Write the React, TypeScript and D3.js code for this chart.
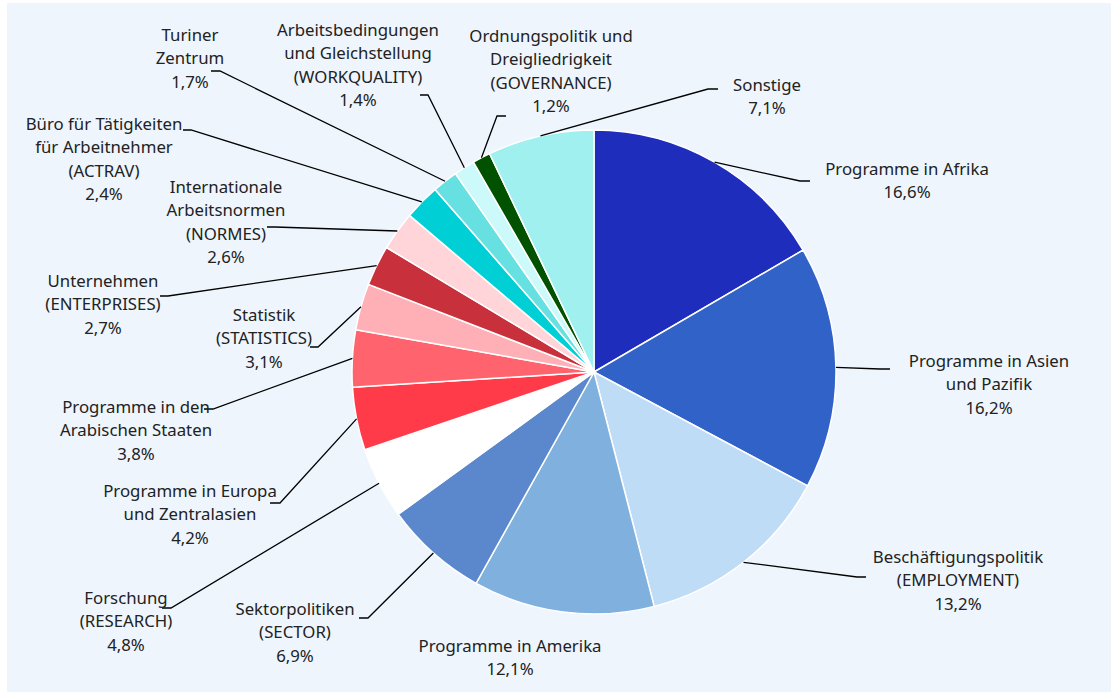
import React from 'react'
import * as d3 from 'd3'

// Anteile in Prozent, im Uhrzeigersinn ab 12 Uhr
const names = [
  'Programme in Afrika', 'Programme in Asien und Pazifik', 'Beschäftigungspolitik (EMPLOYMENT)',
  'Programme in Amerika', 'Sektorpolitiken (SECTOR)', 'Forschung (RESEARCH)',
  'Programme in Europa und Zentralasien', 'Programme in den Arabischen Staaten',
  'Statistik (STATISTICS)', 'Unternehmen (ENTERPRISES)', 'Internationale Arbeitsnormen (NORMES)',
  'Büro für Tätigkeiten für Arbeitnehmer (ACTRAV)', 'Turiner Zentrum',
  'Arbeitsbedingungen und Gleichstellung (WORKQUALITY)', 'Ordnungspolitik und Dreigliedrigkeit (GOVERNANCE)',
  'Sonstige',
]
const values = [16.6, 16.2, 13.2, 12.1, 6.9, 4.8, 4.2, 3.8, 3.1, 2.7, 2.6, 2.4, 1.7, 1.4, 1.2, 7.1]
const labelLines = [
  ['Programme in Afrika'],
  ['Programme in Asien', 'und Pazifik'],
  ['Beschäftigungspolitik', '(EMPLOYMENT)'],
  ['Programme in Amerika'],
  ['Sektorpolitiken', '(SECTOR)'],
  ['Forschung', '(RESEARCH)'],
  ['Programme in Europa', 'und Zentralasien'],
  ['Programme in den', 'Arabischen Staaten'],
  ['Statistik', '(STATISTICS)'],
  ['Unternehmen', '(ENTERPRISES)'],
  ['Internationale', 'Arbeitsnormen', '(NORMES)'],
  ['Büro für Tätigkeiten', 'für Arbeitnehmer', '(ACTRAV)'],
  ['Turiner', 'Zentrum'],
  ['Arbeitsbedingungen', 'und Gleichstellung', '(WORKQUALITY)'],
  ['Ordnungspolitik und', 'Dreigliedrigkeit', '(GOVERNANCE)'],
  ['Sonstige'],
]
const colors = [
  '#1f2dbd', '#3162c8', '#bfdcf7', '#80b0dd', '#5b87cc', '#ffffff', '#ff3b4a', '#ff646e',
  '#ffb0b6', '#c8313c', '#ffd5da', '#00cfd6', '#66e0e0', '#ccf9fa', '#005200', '#a0f0f0',
]

// Beschriftungs-Layout: Textmitte x, erste Zeile y, Knick der Linie, Ende der Linie
const labelPos = [
  { x: 907, y: 169, ex: 800, ey: 181, hx: 810 },
  { x: 989, y: 361, ex: 880, ey: 369, hx: 890 },
  { x: 958, y: 557, ex: 857, ey: 577, hx: 866 },
  { x: 510, y: 646, ex: 560, ey: 628, hx: 560 },
  { x: 295, y: 609, ex: 368, ey: 618, hx: 359 },
  { x: 126, y: 598, ex: 171, ey: 608, hx: 162 },
  { x: 190, y: 491, ex: 280, ey: 503, hx: 270 },
  { x: 136, y: 407, ex: 213, ey: 409, hx: 204 },
  { x: 264, y: 315, ex: 318, ey: 347, hx: 310 },
  { x: 103, y: 281, ex: 168, ey: 296, hx: 160 },
  { x: 226, y: 187, ex: 275, ey: 227, hx: 267 },
  { x: 104, y: 124, ex: 191, ey: 130, hx: 183 },
  { x: 190, y: 35, ex: 220, ey: 71, hx: 211 },
  { x: 358, y: 30, ex: 428, ey: 95, hx: 420 },
  { x: 551, y: 36, ex: 497, ey: 116, hx: 506 },
  { x: 767, y: 85, ex: 708, ey: 89, hx: 718 },
]

const W = 1111, H = 692
const cx = 594, cy = 372, r = 242
const lineH = 23.5

const fmt = (v: number) => v.toFixed(1).replace('.', ',') + '%'

export default function App() {
  const pie = d3.pie<number>().sort(null).value(d => d)
  const arcs = pie(values)
  const arc = d3.arc<d3.PieArcDatum<number>>().innerRadius(0).outerRadius(r)
  const edge = d3.arc<d3.PieArcDatum<number>>().innerRadius(r).outerRadius(r)

  return (
    <svg width={W} height={H} style={{ position: 'absolute', left: 0, top: 0 }}
      fontFamily="'Noto Sans', sans-serif" fontSize={16.8}>
      <rect x={7} y={3} width={W - 7} height={H - 3} fill="#eef5fd" />
      <g transform={`translate(${cx},${cy})`}>
        {arcs.map((a, i) => (
          <path key={names[i]} d={arc(a) || ''} fill={colors[i]} stroke="#fff" strokeWidth={1.5} />
        ))}
      </g>
      {arcs.map((a, i) => {
        const [px, py] = edge.centroid(a)
        const p = labelPos[i]
        const pts = [[cx + px, cy + py], [p.ex, p.ey], [p.hx, p.ey]]
        const lines = [...labelLines[i], fmt(values[i])]
        return (
          <g key={names[i]}>
            {i !== 3 && (
              <path d={d3.line()(pts as [number, number][]) || ''} fill="none" stroke="#000" strokeWidth={1.3} />
            )}
            <text textAnchor="middle" fill="#222">
              {lines.map((t, j) => (
                <tspan key={j} x={p.x} y={p.y + j * lineH} dy="0.35em">{t}</tspan>
              ))}
            </text>
          </g>
        )
      })}
    </svg>
  )
}
